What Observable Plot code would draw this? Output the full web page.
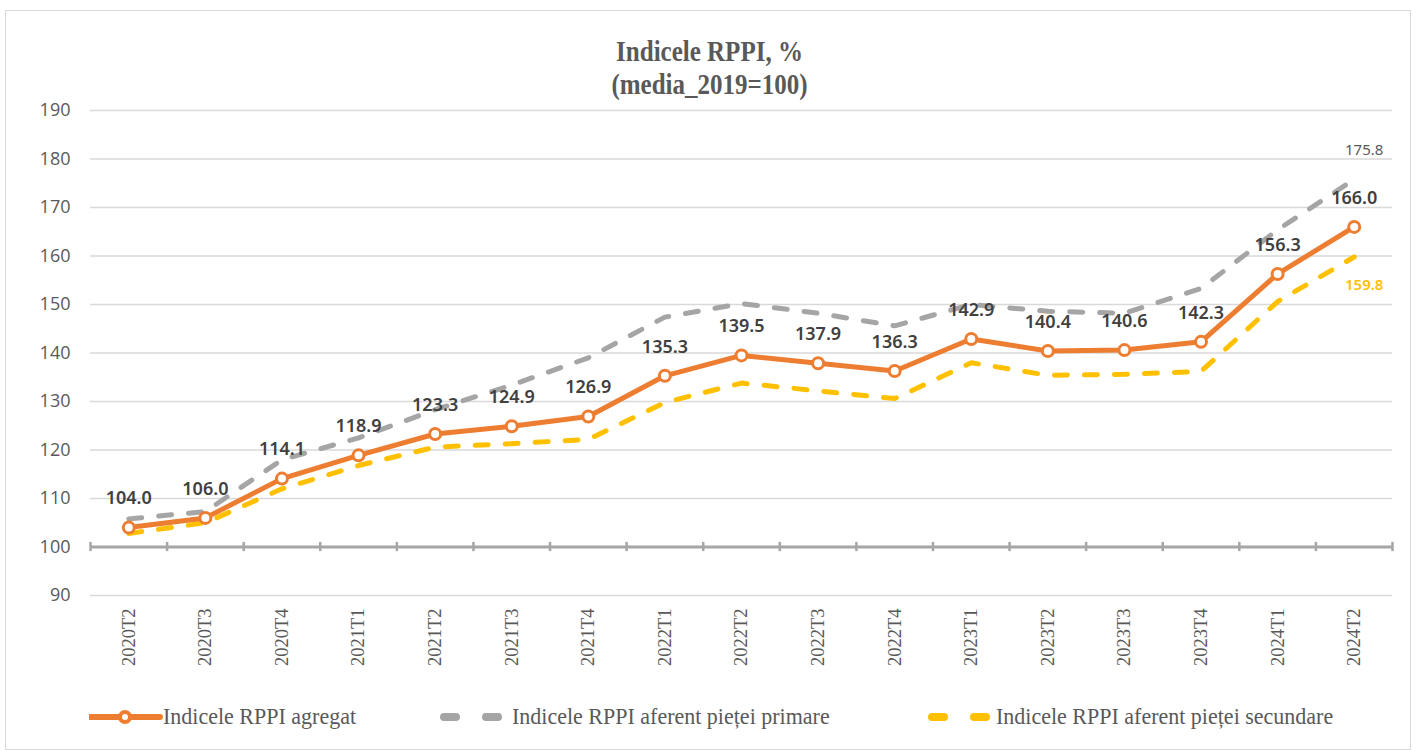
<!DOCTYPE html>
<html>
<head>
<meta charset="utf-8">
<script src="https://cdn.jsdelivr.net/npm/d3@7"></script>
<script src="https://cdn.jsdelivr.net/npm/@observablehq/plot@0.6"></script>
<style>
  html, body { margin: 0; padding: 0; background: #fff; }
  #frame { position: absolute; left: 5px; top: 10px; width: 1406px; height: 740px; border: 1.5px solid #d9d9d9; box-sizing: border-box; }
  #title { position: absolute; left: 0; top: 34px; width: 1419px; text-align: center; font-family: "Liberation Serif", serif; font-weight: bold; font-size: 25px; line-height: 33px; color: #595959; }
  #title span { display: inline-block; transform: scaleY(1.2); }
  #chart { position: absolute; left: 0; top: 95px; }
  #legend { position: absolute; left: 0; top: 700px; width: 1419px; height: 34px; font-family: "Liberation Serif", serif; font-size: 22px; color: #595959; }
  .item { position: absolute; top: 0; display: flex; align-items: center; height: 34px; }
  .item span { display: inline-block; transform: scaleY(1.05); }
</style>
</head>
<body>
<div id="frame"></div>
<div id="title"><span>Indicele RPPI, %</span><br><span>(media_2019=100)</span></div>
<div id="chart"></div>
<div id="legend"></div>
<script>
const categories = ["2020T2","2020T3","2020T4","2021T1","2021T2","2021T3","2021T4","2022T1","2022T2","2022T3","2022T4","2023T1","2023T2","2023T3","2023T4","2024T1","2024T2"];
const aggregate = [104.0,106.0,114.1,118.9,123.3,124.9,126.9,135.3,139.5,137.9,136.3,142.9,140.4,140.6,142.3,156.3,166.0];
const primary = [105.8,107.3,118.0,122.5,128.3,133.4,139.0,147.4,150.2,148.2,145.6,150.0,148.6,148.2,153.3,165.4,175.8];
const secondary = [102.8,105.0,112.0,116.8,120.6,121.3,122.2,129.8,133.8,132.2,130.6,138.0,135.4,135.6,136.2,150.6,159.8];
const yTicks = [90,100,110,120,130,140,150,160,170,180,190];
const seriesNames = ["Indicele RPPI agregat","Indicele RPPI aferent pieței primare","Indicele RPPI aferent pieței secundare"];

const colors = {agg: "#ed7d31", prim: "#a5a5a5", sec: "#ffc000"};
const idx = categories.map((_, i) => i);
const agg = idx.map(i => ({i, v: aggregate[i]}));
const prim = idx.map(i => ({i, v: primary[i]}));
const sec = idx.map(i => ({i, v: secondary[i]}));
const bounds = d3.range(categories.length + 1).map(i => i - 0.5);
const last = categories.length - 1;

const chart = Plot.plot({
  width: 1419,
  height: 580,
  marginLeft: 90,
  marginRight: 27,
  marginTop: 15,
  marginBottom: 80,
  x: {domain: [-0.5, categories.length - 0.5]},
  y: {domain: [90, 190]},
  style: {fontFamily: "'Open Sans', sans-serif", color: "#595959"},
  marks: [
    Plot.gridY(yTicks, {stroke: "#d9d9d9", strokeOpacity: 1, strokeWidth: 1.5}),
    Plot.axisY(yTicks, {tickSize: 0, tickPadding: 20, fontSize: 18, fill: "#595959", label: null}),
    Plot.axisX(idx, {tickSize: 0, tickPadding: 13, tickRotate: -90, tickFormat: i => categories[i], fontSize: 18.5, fill: "#595959", label: null, fontFamily: "'Liberation Serif', serif"}),
    Plot.ruleY([100], {stroke: "#a6a6a6", strokeWidth: 3}),
    Plot.ruleX(bounds, {x: d => d, y1: 99.05, y2: 100.95, stroke: "#a6a6a6", strokeWidth: 2.5}),
    Plot.line(prim, {x: "i", y: "v", stroke: colors.prim, strokeWidth: 5, strokeDasharray: "13,17", strokeLinecap: "round"}),
    Plot.line(sec, {x: "i", y: "v", stroke: colors.sec, strokeWidth: 5, strokeDasharray: "13,17", strokeLinecap: "round"}),
    Plot.line(agg, {x: "i", y: "v", stroke: colors.agg, strokeWidth: 5}),
    Plot.dot(agg, {x: "i", y: "v", r: 5.5, fill: "white", stroke: colors.agg, strokeWidth: 3}),
    Plot.text(agg, {x: "i", y: "v", text: d => d.v.toFixed(1), dy: -29, fontSize: 18, fontWeight: 600, fill: "#404040", fontFamily: "'Noto Sans', sans-serif"}),
    Plot.text([prim[last]], {x: "i", y: "v", text: d => d.v.toFixed(1), dy: -29, dx: 10, fontSize: 15, fill: "#595959", fontFamily: "'Noto Sans', sans-serif"}),
    Plot.text([sec[last]], {x: "i", y: "v", text: d => d.v.toFixed(1), dy: 28, dx: 10, fontSize: 15, fontWeight: 600, fill: colors.sec, fontFamily: "'Noto Sans', sans-serif"})
  ]
});
document.getElementById("chart").appendChild(chart);

// Legend
const legend = document.getElementById("legend");
const items = [
  {name: seriesNames[0], left: 89, type: "agg", textLeft: 163},
  {name: seriesNames[1], left: 439, type: "prim", textLeft: 512},
  {name: seriesNames[2], left: 927, type: "sec", textLeft: 996}
];
for (const it of items) {
  const div = document.createElement("div");
  div.className = "item";
  div.style.left = it.left + "px";
  const w = it.textLeft - it.left;
  let sw;
  if (it.type === "agg") {
    sw = `<svg width="${w}" height="20"><line x1="1" x2="${w-3}" y1="10" y2="10" stroke="${colors.agg}" stroke-width="6" stroke-linecap="round"/><circle cx="${(w-2)/2}" cy="10" r="5" fill="white" stroke="${colors.agg}" stroke-width="4"/></svg>`;
  } else {
    const c = colors[it.type];
    sw = `<svg width="${w}" height="20"><line x1="5" x2="${w-10}" y1="10" y2="10" stroke="${c}" stroke-width="8" stroke-linecap="round" stroke-dasharray="12,30"/></svg>`;
  }
  div.innerHTML = sw + `<span>${it.name}</span>`;
  legend.appendChild(div);
}
</script>
</body>
</html>
